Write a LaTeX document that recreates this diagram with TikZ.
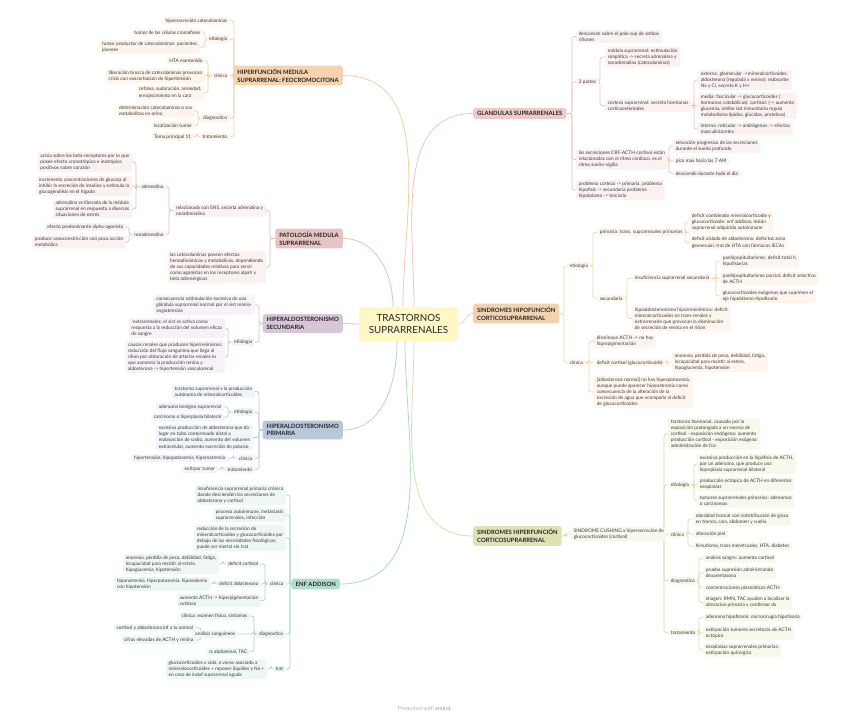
\documentclass[tikz,border=0pt]{standalone}
\usepackage{fontspec}
\setmainfont{Lato}
\usetikzlibrary{backgrounds}
\definecolor{txt}{HTML}{3A3A3A}
\definecolor{CF}{HTML}{FFF7C4}
\definecolor{L1}{HTML}{F2CDA6}\definecolor{M1}{HTML}{F5D3AE}\definecolor{F1}{HTML}{FDF4EB}
\definecolor{L2}{HTML}{E6BDBD}\definecolor{M2}{HTML}{E8C3C3}\definecolor{F2}{HTML}{FBF1F1}
\definecolor{L3}{HTML}{D3C0D3}\definecolor{M3}{HTML}{D6C6D6}\definecolor{F3}{HTML}{F7F2F7}
\definecolor{L4}{HTML}{BBCBDB}\definecolor{M4}{HTML}{B8C8DA}\definecolor{F4}{HTML}{F1F4F8}
\definecolor{L5}{HTML}{A9D6C6}\definecolor{M5}{HTML}{B3DCCD}\definecolor{F5}{HTML}{EEF7F3}
\definecolor{L6}{HTML}{E9C2C2}\definecolor{M6}{HTML}{EDC9C9}\definecolor{F6}{HTML}{FBF1F1}
\definecolor{L7}{HTML}{F3D3AE}\definecolor{M7}{HTML}{F2D3AF}\definecolor{F7}{HTML}{FEF6EE}
\definecolor{L8}{HTML}{D9DCA8}\definecolor{M8}{HTML}{DFE2B6}\definecolor{F8}{HTML}{F7F8EC}
\tikzset{
  nb/.style={font=\fontsize{4.8}{6.1}\selectfont, align=left, inner xsep=2.6pt, inner ysep=1.6pt, rounded corners=1.8pt, text=txt},
  mb/.style={font=\bfseries\fontsize{5.9}{7.6}\selectfont, align=left, inner xsep=4pt, inner ysep=3.3pt, rounded corners=2.5pt, text=black!85},
  ln/.style={line width=0.75pt, rounded corners=2.5pt},
  n1/.style={nb, fill=F1}, m1/.style={mb, fill=M1}, l1/.style={ln, draw=L1},
  n2/.style={nb, fill=F2}, m2/.style={mb, fill=M2}, l2/.style={ln, draw=L2},
  n3/.style={nb, fill=F3}, m3/.style={mb, fill=M3}, l3/.style={ln, draw=L3},
  n4/.style={nb, fill=F4}, m4/.style={mb, fill=M4}, l4/.style={ln, draw=L4},
  n5/.style={nb, fill=F5}, m5/.style={mb, fill=M5}, l5/.style={ln, draw=L5},
  n6/.style={nb, fill=F6}, m6/.style={mb, fill=M6}, l6/.style={ln, draw=L6},
  n7/.style={nb, fill=F7}, m7/.style={mb, fill=M7}, l7/.style={ln, draw=L7},
  n8/.style={nb, fill=F8}, m8/.style={mb, fill=M8}, l8/.style={ln, draw=L8},
  ctr/.style={font=\fontsize{9.8}{12}\selectfont, align=center, fill=CF, rounded corners=3pt, minimum width=99pt, minimum height=34pt, text=black!85},
}
\newcommand{\lkL}[4]{\draw[#1] (#2.west) -- (#2.west -| #3,0) |- (#4.east);}
\newcommand{\lkR}[4]{\draw[#1] (#2.east) -- (#2.east -| #3,0) |- (#4.west);}
\begin{document}
\begin{tikzpicture}[x=1pt,y=-1pt]
\useasboundingbox (0,0) rectangle (848,717);
% centre
\node[ctr] (C) at (408.5,324) {TRASTORNOS\\SUPRARRENALES};
% ---------- branch 1
\node[m1, anchor=east] (H) at (343,75.5) {HIPERFUNCIÓN MEDULA\\SUPRARRENAL: FEOCROMOCITONA};
\node[n1, anchor=east] (H1) at (230,20.7) {hipersecreción catecolaminas};
\node[n1, anchor=east] (H2) at (230,39.3) {etiología};
\node[n1, anchor=east] (H21) at (203,32.3) {tumor de las células cromafines};
\node[n1, anchor=east] (H22) at (200,47) {tumor productor de catecolaminas: pacientes\\jóvenes};
\node[n1, anchor=east] (H3) at (230,75.7) {clínica};
\node[n1, anchor=east] (H31) at (205,60.7) {HTA mantenida};
\node[n1, anchor=east] (H32) at (205,76) {liberación brusca de catecolaminas provocan\\crisis con exacerbación de hipertensión};
\node[n1, anchor=east] (H33) at (204,92.7) {cefalea, sudoración, ansiedad,\\enrojecimiento en la cara};
\node[n1, anchor=east] (H4) at (230,118.3) {diagnostico};
\node[n1, anchor=east] (H41) at (195,111) {determinación catecolaminas o sus\\metabolitos en orina};
\node[n1, anchor=east] (H42) at (195,125.7) {localización tumor};
\node[n1, anchor=east] (H5) at (230,136.7) {tratamiento};
\node[n1, anchor=east] (H51) at (194,136.7) {Tema principal 11};
% ---------- branch 2
\node[m2, anchor=east] (P) at (343,238.5) {PATOLOGÍA MEDULA\\SUPRARRENAL};
\node[n2, anchor=east] (P1) at (266,210.5) {relacionada con SNS, secreta adrenalina y\\noradrenalina};
\node[n2, anchor=east] (P11) at (166,186.7) {adrenalina};
\node[n2, anchor=east] (P111) at (132,162) {actúa sobre los beta-receptores por lo que\\posee efecto cronotrópico e inotrópico\\positivos sobre corazón};
\node[n2, anchor=east] (P112) at (132,186) {incrementa concentraciones de glucosa al\\inhibir la secreción de insulina y estimula la\\glucogenólisis en el hígado};
\node[n2, anchor=east] (P113) at (132,209) {adrenalina es liberada de la médula\\suprarrenal en respuesta a diversas\\situaciones de estrés};
\node[n2, anchor=east] (P12) at (166,234.3) {noradrenalina};
\node[n2, anchor=east] (P121) at (126,227) {efecto predominante alpha-agonista};
\node[n2, anchor=east] (P122) at (126,242) {produce vasoconstricción con poca acción\\metabólica};
\node[n2, anchor=east] (P2) at (266,267) {las catecolaminas poseen efectos\\hemodinámicos y metabólicos, dependiendo\\de sus capacidades relativas para servir\\como agonistas en los receptores alpah y\\beta adrenérgicos};
% ---------- branch 3
\node[m3, anchor=east] (S) at (343,323.5) {HIPERALDOSTERONISMO\\SECUNDARIA};
\node[n3, anchor=east] (S1) at (255,305) {consecuencia estimulación excesiva de una\\glándula suprarrenal normal por el sist renina-\\angiotensina};
\node[n3, anchor=east] (S2) at (255,342.3) {etiología};
\node[n3, anchor=east] (S21) at (225,328) {-extrarrenales: el sist se activa como\\respuesta a la reducción del volumen eficaz\\de sangre};
\node[n3, anchor=east] (S22) at (225,357) {causas renales que producen hiperreninismo:\\reducción del flujo sanguíneo que llega al\\riñon por obturación de arterias renales lo\\que aumenta la producción renina y\\aldosterona -> hipertensión vasculorenal};
% ---------- branch 4
\node[m4, anchor=east] (R) at (343,430) {HIPERALDOSTERONISMO\\PRIMARIA};
\node[n4, anchor=east] (R1) at (255,391.5) {trastorno suprarrenal x la producción\\autónoma de mineralcorticoides};
\node[n4, anchor=east] (R2) at (255,412) {etiología};
\node[n4, anchor=east] (R21) at (224,406.7) {adenoma benigno suprarrenal};
\node[n4, anchor=east] (R22) at (224,417.3) {carcinoma o hiperplasia bilateral};
\node[n4, anchor=east] (R3) at (253,437.5) {excesiva producción de aldosterona que da\\lugar en tubo contorneado distal a\\reabsorción de sodio, aumento del volumen\\extracelular, aumento excreción de potasio};
\node[n4, anchor=east] (R4) at (255,458.3) {clínica};
\node[n4, anchor=east] (R41) at (228,458.3) {hipertensión, hipopotasemia, hipernatremia};
\node[n4, anchor=east] (R5) at (255,469.3) {tratamiento};
\node[n4, anchor=east] (R51) at (218,469.3) {extirpar tumor};
% ---------- branch 5
\node[m5, anchor=east] (A) at (340,584) {ENF ADDISON};
\node[n5, anchor=east] (A1) at (286,495) {insuficiencia suprarrenal primaria crónica\\donde descienden las secreciones de\\aldosterona y cortisol};
\node[n5, anchor=east] (A2) at (286,515) {proceso autoinmune, metástasis\\suprarrenales, infección};
\node[n5, anchor=east] (A3) at (286,538) {reducción de la secreción de\\mineralcorticoides y glucocorticoides por\\debajo de las necesidades fisiológicas,\\puede ser mortal sin trat};
\node[n5, anchor=east] (A4) at (286,584) {clínica};
\node[n5, anchor=east] (A41) at (261,564) {deficit cortisol};
\node[n5, anchor=east] (A411) at (219,564) {anorexia, pérdida de peso, debilidad, fatiga,\\incapacidad para resistir al estrés,\\hipoglucemia, hipotensión};
\node[n5, anchor=east] (A42) at (261,584) {deficit aldosterona};
\node[n5, anchor=east] (A421) at (210,584) {hiponatremia, hiperpotasemia, hipovolemia\\con hipotensión};
\node[n5, anchor=east] (A43) at (261,600.5) {aumenta ACTH -> hiperpigmentación\\cutánea};
\node[n5, anchor=east] (A5) at (286,634) {diagnostico};
\node[n5, anchor=east] (A51) at (250,616) {clínica: examen físico, síntomas};
\node[n5, anchor=east] (A52) at (238,634) {análisis sanguíneos};
\node[n5, anchor=east] (A521) at (196,627.7) {cortisol y aldosterona inf a lo normal};
\node[n5, anchor=east] (A522) at (196,640) {cifras elevadas de ACTH y renina};
\node[n5, anchor=east] (A53) at (250,651.7) {rx abdominal, TAC};
\node[n5, anchor=east] (A6) at (286,669) {trat};
\node[n5, anchor=east] (A61) at (267,669) {glucocorticoides x vida, a veces asociado a\\mineralocorticoides + reponer líquidos y Na +\\en caso de induf suprarrenal aguda};
% ---------- branch 6
\node[m6, anchor=west] (G) at (473,113.5) {GLANDULAS SUPRARRENALES};
\node[n6, anchor=west] (G1) at (576,36.5) {descansan sobre el polo sup de ambos\\riñones};
\node[n6, anchor=west] (G2) at (576,81.7) {2 partes};
\node[n6, anchor=west] (G21) at (605,57) {médula suprarrenal: estimulación\\simpática -> secreta adrenalina y\\noradrenalina (catecolaminas)};
\node[n6, anchor=west] (G22) at (605,105.5) {corteza suprarrenal: secreta hormonas\\corticoesteroides};
\node[n6, anchor=west] (G221) at (698,80) {externa: glomerular ->mineralcorticoides:\\aldosterona (regulada x renina): reabsorbe\\Na y Cl, excreta K y H+};
\node[n6, anchor=west] (G222) at (698,106) {media: fascicular -> glucocorticoides (\\hormonas catabólicas): cortisol: (-> aumenta\\glucemia, inhibe sist inmunitario regula\\metabolismo lípidos, glúcidos, proteínas)};
\node[n6, anchor=west] (G223) at (698,129) {interna: reticular -> andrógenos -> efectos\\masculinizantes};
\node[n6, anchor=west] (G3) at (576,159.5) {las secreciones CRF-ACTH-cortisol están\\relacionadas con el ritmo cardíaco, es el\\ritmo sueño-vigilia};
\node[n6, anchor=west] (G31) at (673,146) {elevación progresiva de las secreciones\\durante el sueño profundo};
\node[n6, anchor=west] (G32) at (673,160.7) {pico max hacia las 7 AM};
\node[n6, anchor=west] (G33) at (673,173.3) {desciende durante todo el día};
\node[n6, anchor=west] (G4) at (576,190) {problema corteza -> primaria. problema\\hipofisis -> secundaria problema\\hipotalamo -> terciaria};
% ---------- branch 7
\node[m7, anchor=west] (F) at (473,313.5) {SINDROMES HIPOFUNCIÓN\\CORTICOSUPRARRENAL};
\node[n7, anchor=west] (F1) at (567,265.7) {etiología};
\node[n7, anchor=west] (F11) at (597,232.3) {primaria: trans. suprarrenales primarios};
\node[n7, anchor=west] (F111) at (689,222) {deficit combinado mineralcorticoide y\\glucocorticoide: enf addison, lesión\\suprarrenal adquirida autoinmune};
\node[n7, anchor=west] (F112) at (689,242.7) {deficit aislado de aldosterona: defectos zona\\glomerular, trat de HTA con fármacos IECAs};
\node[n7, anchor=west] (F12) at (597,298.3) {secundaria};
\node[n7, anchor=west] (F121) at (632,278.3) {insuficiencia suprarrenal secundaria};
\node[n7, anchor=west] (F1211) at (720,261) {panhipopituitarismo: deficit total h.\\hipofisiarias};
\node[n7, anchor=west] (F1212) at (720,278.5) {panhipopituitarismo parcial: deficit selectivo\\de ACTH};
\node[n7, anchor=west] (F1213) at (720,296) {glucocorticoides exógenos que suprimen el\\eje hipotálamo-hipofisario};
\node[n7, anchor=west] (F122) at (632,318.5) {hipoaldosteronismo hiporreninémico: deficit\\mineralcorticoides en trans renales y\\extrarrenales que provocan la disminución\\de secreción de renina en el riñon};
\node[n7, anchor=west] (F2) at (567,362.7) {clínica};
\node[n7, anchor=west] (F21) at (594,341.5) {disminuye ACTH -> no hay\\hiperpigmentación};
\node[n7, anchor=west] (F22) at (594,362.7) {deficit cortisol (glucocorticoide)};
\node[n7, anchor=west] (F221) at (672,362) {anorexia, pérdida de peso, debilidad, fatiga,\\incapacidad para resistir al estrés,\\hipoglucemia, hipotensión};
\node[n7, anchor=west] (F23) at (594,392) {[aldosterona normal] no hay hiperpotasemia,\\aunque puede aparecer hiponatremia como\\consecuencia de la alteración de la\\excreción de agua que acompaña al deficit\\de glucocorticoides};
% ---------- branch 8
\node[m8, anchor=west] (K) at (473,536) {SINDROMES HIPERFUNCIÓN\\CORTICOSUPRARRENAL};
\node[n8, anchor=west] (K1) at (571,534) {SINDROME CUSHING x hipersecreción de\\glucocorticoides (cortisol)};
\node[n8, anchor=west] (K11) at (668,434) {trastorno hormonal, causado por la\\exposición prolongada a un exceso de\\cortisol - exposición endógena: aumento\\producción cortisol - exposición exógena:\\administración de fco};
\node[n8, anchor=west] (K12) at (668,485) {etiología};
\node[n8, anchor=west] (K121) at (697,464) {excesiva producción en la hipófisis de ACTH,\\por un adenoma, que produce una\\hiperplasia suprarrenal bilateral};
\node[n8, anchor=west] (K122) at (697,484.5) {producción ectópica de ACTH en diferentes\\neoplasias};
\node[n8, anchor=west] (K123) at (697,501) {tumores suprarrenales primarios: adenomas\\o carcinomas};
\node[n8, anchor=west] (K13) at (668,534.3) {clínica};
\node[n8, anchor=west] (K131) at (693,519) {obesidad troncal con redistribución de grasa\\en tronco, cara, abdomen y cuello};
\node[n8, anchor=west] (K132) at (693,534.3) {alteración piel};
\node[n8, anchor=west] (K133) at (693,546) {hirsutismo, trans menstruales, HTA, diabetes};
\node[n8, anchor=west] (K14) at (668,580.7) {diagnostico};
\node[n8, anchor=west] (K141) at (703,558.3) {analisis sangre: aumenta cortisol};
\node[n8, anchor=west] (K142) at (703,573) {prueba supresión administrando\\dexametasona};
\node[n8, anchor=west] (K143) at (703,587.7) {concentraciones plasmáticas ACTH};
\node[n8, anchor=west] (K144) at (703,602.5) {imagen: RMN, TAC ayuden a localizar la\\alteracion primaria y confirmar dx};
\node[n8, anchor=west] (K15) at (668,632.7) {tratamiento};
\node[n8, anchor=west] (K151) at (703,617.3) {adenoma hipofisario: microcirugía hipofisaria};
\node[n8, anchor=west] (K152) at (703,633) {extirpación tumores secretoras de ACTH\\ectópica};
\node[n8, anchor=west] (K153) at (703,650) {neoplasias suprarrenales primarias:\\extirpación quirúrgica};
% footer
\node[font=\fontsize{5.5}{6}\selectfont, text=black!30] (ft) at (424,708) {Presented with \textbf{xmind}};

\begin{pgfonlayer}{background}
\fill[white] (0,0) rectangle (848,717);
% centre connectors
\draw[l1] (C.north -| 403,0) to[out=90,in=0] (H.east);
\draw[l2] (C.north -| 393,0) to[out=90,in=0] (P.east);
\draw[l6] (C.north -| 414,0) to[out=90,in=180] (G.west);
\draw[l3] (C.west) to[out=180,in=0] (S.east);
\draw[l7] (C.east) to[out=0,in=180] (F.west);
\draw[l4] (C.south -| 397,0) to[out=-90,in=0] (R.east);
\draw[l5] (C.south -| 405,0) to[out=-90,in=0] (A.east);
\draw[l8] (C.south -| 414,0) to[out=-90,in=180] (K.west);
% branch 1
\foreach \c in {H1,H2,H3,H4,H5} {\lkL{l1}{H}{234}{\c}}
\foreach \c in {H21,H22} {\lkL{l1}{H2}{205}{\c}}
\foreach \c in {H31,H32,H33} {\lkL{l1}{H3}{208}{\c}}
\foreach \c in {H41,H42} {\lkL{l1}{H4}{198}{\c}}
\lkL{l1}{H5}{197}{H51}
% branch 2
\foreach \c in {P1,P2} {\lkL{l2}{P}{270}{\c}}
\foreach \c in {P11,P12} {\lkL{l2}{P1}{169}{\c}}
\foreach \c in {P111,P112,P113} {\lkL{l2}{P11}{136}{\c}}
\foreach \c in {P121,P122} {\lkL{l2}{P12}{129}{\c}}
% branch 3
\foreach \c in {S1,S2} {\lkL{l3}{S}{259}{\c}}
\foreach \c in {S21,S22} {\lkL{l3}{S2}{228}{\c}}
% branch 4
\foreach \c in {R1,R2,R3,R4,R5} {\lkL{l4}{R}{259}{\c}}
\foreach \c in {R21,R22} {\lkL{l4}{R2}{228}{\c}}
\lkL{l4}{R4}{233}{R41}
\lkL{l4}{R5}{222}{R51}
% branch 5
\foreach \c in {A1,A2,A3,A4,A5,A6} {\lkL{l5}{A}{290}{\c}}
\foreach \c in {A41,A42,A43} {\lkL{l5}{A4}{265}{\c}}
\lkL{l5}{A41}{223}{A411}
\lkL{l5}{A42}{214}{A421}
\foreach \c in {A51,A52,A53} {\lkL{l5}{A5}{254}{\c}}
\foreach \c in {A521,A522} {\lkL{l5}{A52}{201}{\c}}
\lkL{l5}{A6}{271}{A61}
% branch 6
\foreach \c in {G1,G2,G3,G4} {\lkR{l6}{G}{572}{\c}}
\foreach \c in {G21,G22} {\lkR{l6}{G2}{600}{\c}}
\foreach \c in {G221,G222,G223} {\lkR{l6}{G22}{694}{\c}}
\foreach \c in {G31,G32,G33} {\lkR{l6}{G3}{669}{\c}}
% branch 7
\foreach \c in {F1,F2} {\lkR{l7}{F}{564}{\c}}
\foreach \c in {F11,F12} {\lkR{l7}{F1}{593}{\c}}
\foreach \c in {F111,F112} {\lkR{l7}{F11}{685}{\c}}
\foreach \c in {F121,F122} {\lkR{l7}{F12}{627}{\c}}
\foreach \c in {F1211,F1212,F1213} {\lkR{l7}{F121}{716}{\c}}
\foreach \c in {F21,F22,F23} {\lkR{l7}{F2}{589}{\c}}
\lkR{l7}{F22}{667}{F221}
% branch 8
\lkR{l8}{K}{566}{K1}
\foreach \c in {K11,K12,K13,K14,K15} {\lkR{l8}{K1}{664}{\c}}
\foreach \c in {K121,K122,K123} {\lkR{l8}{K12}{694}{\c}}
\foreach \c in {K131,K132,K133} {\lkR{l8}{K13}{688}{\c}}
\foreach \c in {K141,K142,K143,K144} {\lkR{l8}{K14}{699}{\c}}
\foreach \c in {K151,K152,K153} {\lkR{l8}{K15}{699}{\c}}
\end{pgfonlayer}
\end{tikzpicture}
\end{document}
